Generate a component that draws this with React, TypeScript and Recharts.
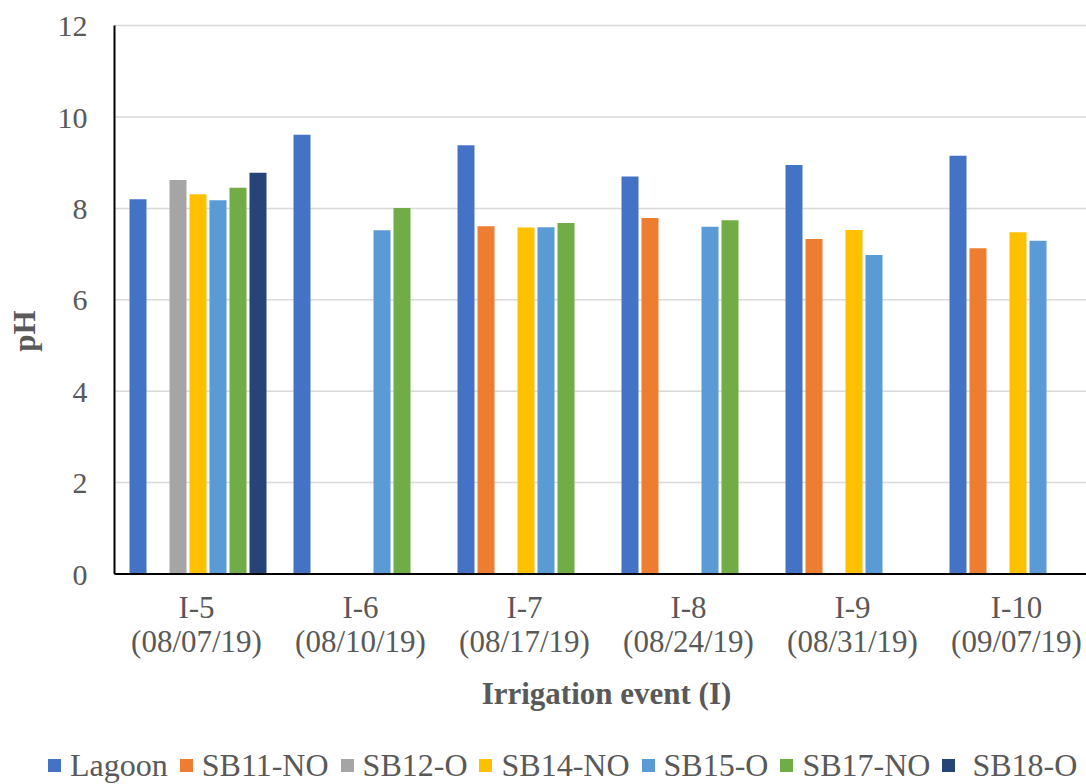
import React from "react";
import { BarChart, Bar, XAxis, YAxis, CartesianGrid } from "recharts";

// Irrigation events and their sampling dates
const events = ["I-5", "I-6", "I-7", "I-8", "I-9", "I-10"];
const eventDates = ["(08/07/19)", "(08/10/19)", "(08/17/19)", "(08/24/19)", "(08/31/19)", "(09/07/19)"];

// pH by source for each irrigation event (null = not sampled)
const lagoon = [8.2, 9.61, 9.38, 8.7, 8.95, 9.15];
const sb11NO = [null, null, 7.61, 7.79, 7.33, 7.13];
const sb12O = [8.62, null, null, null, null, null];
const sb14NO = [8.31, null, 7.58, null, 7.53, 7.48];
const sb15O = [8.18, 7.52, 7.59, 7.6, 6.98, 7.29];
const sb17NO = [8.45, 8.01, 7.68, 7.74, null, null];
const sb18O = [8.78, null, null, null, null, null];

const yTicks = [0, 2, 4, 6, 8, 10, 12];

const series = [
  { key: "lagoon", name: "Lagoon", color: "#4472C4", values: lagoon },
  { key: "sb11", name: "SB11-NO", color: "#ED7D31", values: sb11NO },
  { key: "sb12", name: "SB12-O", color: "#A5A5A5", values: sb12O },
  { key: "sb14", name: "SB14-NO", color: "#FFC000", values: sb14NO },
  { key: "sb15", name: "SB15-O", color: "#5B9BD5", values: sb15O },
  { key: "sb17", name: "SB17-NO", color: "#70AD47", values: sb17NO },
  { key: "sb18", name: " SB18-O", color: "#264478", values: sb18O },
];

const data = events.map((ev, i) => {
  const row: Record<string, any> = { event: ev, date: eventDates[i] };
  series.forEach((s) => {
    row[s.key] = s.values[i];
  });
  return row;
});

const FONT = '"Liberation Serif", "Times New Roman", serif';
const TEXT_COLOR = "#595959";

const EventTick = (props: any) => {
  const { x, y, payload, index } = props;
  return (
    <text
      x={x}
      y={y}
      textAnchor="middle"
      fill={TEXT_COLOR}
      fontFamily={FONT}
      fontSize={31}
    >
      <tspan x={x} dy={44}>
        {payload.value}
      </tspan>
      <tspan x={x} dy={34}>
        {eventDates[index]}
      </tspan>
    </text>
  );
};

export default function App() {
  return (
    <div
      style={{
        position: "absolute",
        left: 0,
        top: 0,
        width: 1086,
        height: 784,
        overflow: "hidden",
        background: "#ffffff",
      }}
    >
      <BarChart
        width={1110}
        height={784}
        data={data}
        margin={{ top: 25.6, right: 11.5, bottom: 80, left: 0 }}
        barCategoryGap={15}
        barGap={3}
      >
        <CartesianGrid vertical={false} stroke="#d9d9d9" strokeWidth={1.5} />
        <XAxis
          dataKey="event"
          height={130}
          tickSize={0}
          tickMargin={0}
          interval={0}
          tick={<EventTick />}
          axisLine={{ stroke: "#000000", strokeWidth: 2 }}
          label={{
            content: ({ viewBox }: any) => (
              <text
                x={viewBox.x + viewBox.width / 2}
                y={viewBox.y + 130}
                textAnchor="middle"
                fill={TEXT_COLOR}
                fontFamily={FONT}
                fontSize={31}
                fontWeight="bold"
              >
                Irrigation event (I)
              </text>
            ),
          }}
        />
        <YAxis
          width={114.5}
          domain={[0, 12]}
          ticks={yTicks}
          tickSize={0}
          tickMargin={27}
          tick={{ fill: TEXT_COLOR, fontFamily: FONT, fontSize: 30 }}
          axisLine={{ stroke: "#000000", strokeWidth: 2 }}
          label={{
            content: () => (
              <text
                x={35}
                y={331}
                transform="rotate(-90 35 331)"
                textAnchor="middle"
                fill={TEXT_COLOR}
                fontFamily={FONT}
                fontSize={31}
                fontWeight="bold"
              >
                pH
              </text>
            ),
          }}
        />
        {series.map((s) => (
          <Bar
            key={s.key}
            dataKey={s.key}
            name={s.name}
            fill={s.color}
            isAnimationActive={false}
          />
        ))}
      </BarChart>
      <div
        style={{
          position: "absolute",
          left: 48,
          top: 750,
          height: 30,
          display: "flex",
          alignItems: "center",
          fontFamily: FONT,
          fontSize: 32,
          color: TEXT_COLOR,
          whiteSpace: "pre",
          lineHeight: "30px",
        }}
      >
        {series.map((s) => (
          <div
            key={s.key}
            style={{ display: "flex", alignItems: "center", marginRight: 12 }}
          >
            <span
              style={{
                display: "inline-block",
                width: 13,
                height: 13,
                background: s.color,
                marginRight: 9,
              }}
            />
            <span>{s.name}</span>
          </div>
        ))}
      </div>
    </div>
  );
}
